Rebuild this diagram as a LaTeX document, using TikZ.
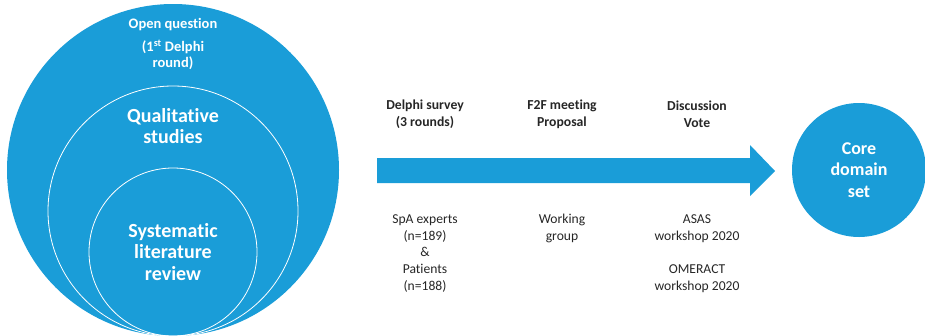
\documentclass[tikz,border=0pt]{standalone}
\usepackage{fontspec}
\setmainfont{Carlito}[Ligatures=NoCommon]
\definecolor{blu}{RGB}{26,157,216}
\definecolor{txt}{RGB}{38,38,38}
\begin{document}
\begin{tikzpicture}[x=1pt,y=1pt,
  disc/.style={circle,fill=blu,inner sep=0pt},
  ring/.style={circle,draw=white,line width=0.8pt,inner sep=0pt},
  wsmall/.style={text=white,font=\fontsize{14.5}{16.5}\selectfont\bfseries,align=center},
  wbig/.style={text=white,font=\fontsize{20}{21.5}\selectfont\bfseries,align=center},
  wcore/.style={text=white,font=\fontsize{18}{21.5}\selectfont\bfseries,align=center},
  head/.style={text=txt,font=\fontsize{13.7}{17}\selectfont\bfseries,align=center},
  body/.style={text=txt,font=\fontsize{13.6}{16.7}\selectfont,align=center}]
\useasboundingbox (0,0) rectangle (925,-335);
% left nested circles
\node[disc,minimum size=332pt] (outer) at (173,-170) {};
\node[ring,minimum size=250pt] (middle) at (173,-211) {};
\node[ring,minimum size=168pt] (inner) at (173,-252) {};
\node[wsmall] (oq) at (173,-25) {Open question};
\node[wsmall] (dr) at (173,-55) {(1\textsuperscript{st} Delphi\\round)};
\node[wbig] (qs) at (173,-126) {Qualitative\\studies};
\node[wbig] (slr) at (173,-252) {Systematic\\literature\\review};
% arrow
\fill[blu] (377,-158) -- (750,-158) -- (750,-145) -- (775,-171) -- (750,-196) -- (750,-183) -- (377,-183) -- cycle;
% labels above
\node[head] (h1) at (425,-114) {Delphi survey\\(3 rounds)};
\node[head] (h2) at (562,-114) {F2F meeting\\Proposal};
\node[head] (h3) at (697,-114) {Discussion\\Vote};
% labels below
\node[body,anchor=north] (b1) at (425,-211) {SpA experts\\(n=189)\\\&\\Patients\\(n=188)};
\node[body,anchor=north] (b2) at (562,-211) {Working\\group};
\node[body,anchor=north] (b3) at (697,-211) {ASAS\\workshop 2020\\[16.7pt]OMERACT\\workshop 2020};
% right circle
\node[disc,minimum size=134pt] (core) at (859,-170) {};
\node[wcore] (cds) at (859,-170) {Core\\domain\\set};
\end{tikzpicture}
\end{document}
